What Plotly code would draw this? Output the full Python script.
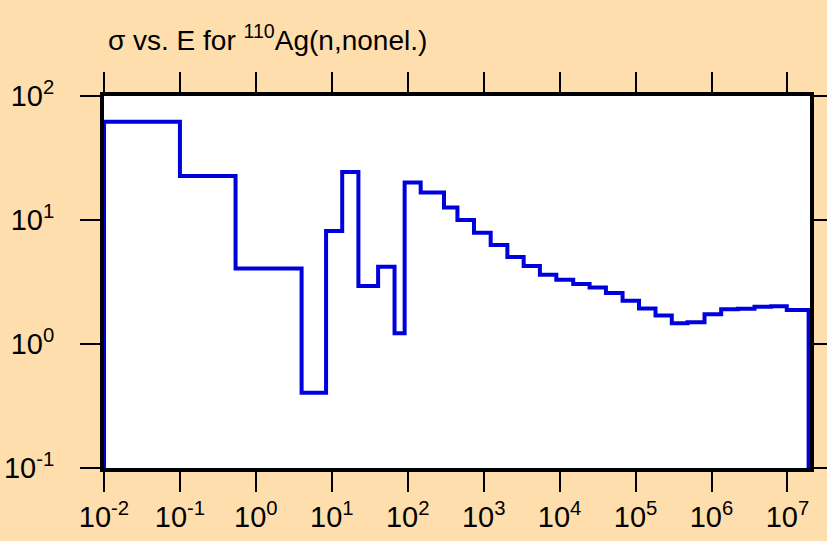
import plotly.graph_objects as go

# Energy bin edges (eV) and cross sections (b)
energy_edges = [0.01, 0.1, 0.54, 4.0, 8.4, 13.7, 22.4, 40.7, 67, 91, 148, 300, 451, 745,
                1236, 2050, 3360, 5500, 9040, 15100, 24800, 40700, 67400, 111000, 183000,
                300000, 483000, 809000, 1.34e6, 2.22e6, 3.68e6, 6.1e6, 9.8e6, 1.9e7]
sigma_values = [62, 22.6, 4.07, 0.405, 8.15, 24.4, 2.94, 4.2, 1.22, 20.1, 16.7, 12.6, 10.0,
                7.9, 6.3, 5.04, 4.26, 3.62, 3.30, 3.05, 2.85, 2.58, 2.23, 1.93, 1.70, 1.47,
                1.50, 1.74, 1.91, 1.92, 2.0, 2.02, 1.88]
floor_value = 1e-3  # the curve drops off the bottom of the axis at both ends

x_tick_vals = [1e-2, 1e-1, 1e0, 1e1, 1e2, 1e3, 1e4, 1e5, 1e6, 1e7]
x_tick_text = ["10<sup>-2</sup>", "10<sup>-1</sup>", "10<sup>0</sup>", "10<sup>1</sup>",
               "10<sup>2</sup>", "10<sup>3</sup>", "10<sup>4</sup>", "10<sup>5</sup>",
               "10<sup>6</sup>", "10<sup>7</sup>"]
y_tick_vals = [1e-1, 1e0, 1e1, 1e2]
y_tick_text = ["10<sup>-1</sup>", "10<sup>0</sup>", "10<sup>1</sup>", "10<sup>2</sup>"]

xs = [energy_edges[0]] + energy_edges + [energy_edges[-1]]
ys = [floor_value] + sigma_values + [sigma_values[-1], floor_value]

fig = go.Figure()
fig.add_trace(go.Scatter(
    x=xs, y=ys, mode="lines", line_shape="hv",
    line=dict(color="rgb(0,0,221)", width=4),
    hoverinfo="skip", showlegend=False,
))

font_family = "Liberation Sans, Arial, sans-serif"
axis_common = dict(
    type="log", showgrid=False, zeroline=False, automargin=False,
    showline=True, linecolor="black", linewidth=4, mirror="ticks",
    ticks="outside", ticklen=20, tickwidth=2, tickcolor="black",
    tickfont=dict(family=font_family, size=29, color="black"),
)

fig.update_xaxes(range=[-2, 7.297], tickvals=x_tick_vals, ticktext=x_tick_text,
                 ticklabelstandoff=0, **axis_common)
fig.update_yaxes(range=[-1, 2], tickvals=y_tick_vals, ticktext=y_tick_text,
                 ticklabelstandoff=20, **axis_common)

fig.update_layout(
    width=827, height=541,
    paper_bgcolor="#FFDEAD", plot_bgcolor="white",
    margin=dict(l=104, r=17, t=96, b=73),
    title=dict(text="σ vs. E for <sup>110</sup>Ag(n,nonel.)",
               font=dict(family=font_family, size=28, color="black"),
               xref="container", x=108 / 827, xanchor="left",
               yref="container", y=1 - 40 / 541, yanchor="middle"),
)

fig.write_html("out.html", config={"displayModeBar": False},
               post_script="document.body.style.margin='0';document.body.style.background='#FFDEAD';")
